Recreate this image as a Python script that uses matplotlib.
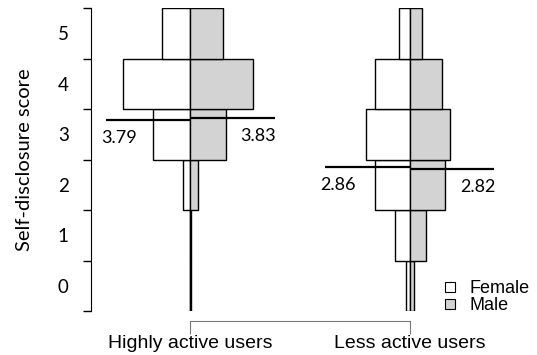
import matplotlib.pyplot as plt
import numpy as np

# score bins 0..5, share of users in each bin
scores = [0, 1, 2, 3, 4, 5]
groups = ['Highly active users', 'Less active users']
female = [
    [0.002, 0.003, 0.054, 0.267, 0.475, 0.203],
    [0.028, 0.103, 0.243, 0.311, 0.243, 0.073],
]
male = [
    [0.004, 0.004, 0.057, 0.253, 0.443, 0.234],
    [0.032, 0.117, 0.253, 0.283, 0.227, 0.088],
]
female_mean = [3.79, 2.86]
male_mean = [3.83, 2.82]

scale = 0.643      # width of a full proportion in x units
half_line = 0.385  # half length of the mean lines
grey = '#d3d3d3'

fig = plt.figure(figsize=(5.37, 3.55), dpi=100)
ax = fig.add_axes([91 / 537, 44 / 355, 446 / 537, 303 / 355])

num_font = 'Lato'
for i, c in enumerate([1, 2]):
    wf = np.array(female[i]) * scale
    wm = np.array(male[i]) * scale
    ax.barh(scores, wf, height=1, left=c - wf, align='edge',
            color='white', edgecolor='black', linewidth=1)
    ax.barh(scores, wm, height=1, left=c, align='edge',
            color=grey, edgecolor='black', linewidth=1)
    ax.hlines(female_mean[i], c - half_line, c, color='black', lw=1.6, zorder=3)
    ax.hlines(male_mean[i], c, c + half_line, color='black', lw=1.6, zorder=3)
    ax.text(c - 0.325, female_mean[i] - 0.2, f'{female_mean[i]:.2f}',
            ha='center', va='top', fontsize=13, family=num_font)
    ax.text(c + 0.31, male_mean[i] - 0.2, f'{male_mean[i]:.2f}',
            ha='center', va='top', fontsize=13, family=num_font)

ax.set_xlim(1 - 99.3 / 219.4, 2 + 127.3 / 219.4)
ax.set_ylim(0, 6)

ax.spines['top'].set_visible(False)
ax.spines['right'].set_visible(False)
ax.spines['bottom'].set_position(('outward', 7))
ax.spines['bottom'].set_bounds(1, 2)
ax.spines['bottom'].set_color('#777777')

ax.set_xticks([1, 2])
ax.set_xticklabels(groups, fontsize=14, family='Liberation Sans')
ax.tick_params(axis='x', direction='out', length=9, color='#777777', pad=1)

ax.set_yticks(range(7))
ax.set_yticklabels([])
ax.set_yticks(np.array(scores) + 0.5, minor=True)
ax.set_yticklabels([str(s) for s in scores], minor=True,
                   fontsize=13.5, family=num_font)
ax.tick_params(axis='y', which='major', length=6, width=1)
ax.tick_params(axis='y', which='minor', length=0, pad=16)
ax.set_ylabel('Self-disclosure score', fontsize=14.5, family=num_font, labelpad=18)

# legend boxes
ax.legend(handles=[plt.Rectangle((0, 0), 1, 1, fc='white', ec='black', lw=0.8),
                   plt.Rectangle((0, 0), 1, 1, fc=grey, ec='black', lw=0.8)],
          labels=['Female', 'Male'], loc='lower right', frameon=False,
          prop={'family': 'Liberation Sans', 'size': 13},
          handlelength=0.55, handleheight=0.55, handletextpad=0.8,
          labelspacing=0.0, bbox_to_anchor=(1.0, -0.035), borderaxespad=0.0)

fig.savefig('out.png', dpi=100)
